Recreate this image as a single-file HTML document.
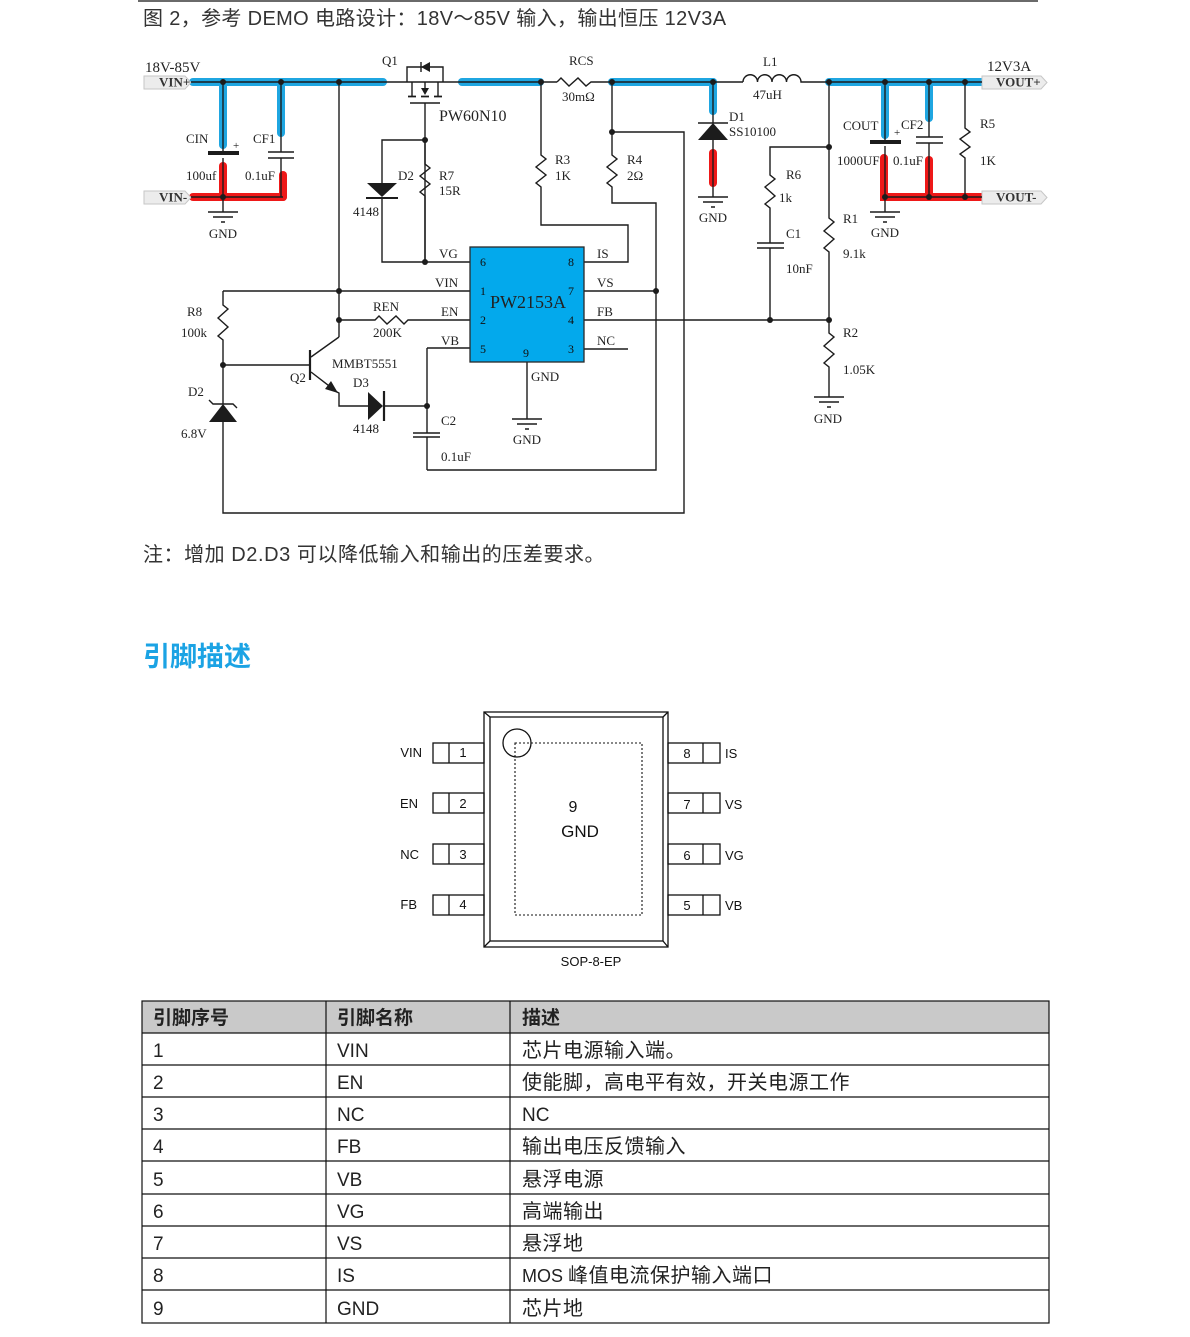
<!DOCTYPE html>
<html><head><meta charset="utf-8">
<style>
html,body{margin:0;padding:0;background:#fff;}
svg{display:block;}
.w{fill:none;stroke:#1c1c1c;stroke-width:1.4;}
.s{font-family:"Liberation Serif",serif;font-size:13px;fill:#222;}
.b{font-family:"Liberation Serif",serif;font-size:13px;font-weight:bold;fill:#333;}
.a{font-family:"Liberation Sans",sans-serif;font-size:13px;fill:#111;}
.cn{font-family:"Liberation Sans","Noto Sans CJK SC",sans-serif;}
</style></head>
<body>
<svg width="1190" height="1337" viewBox="0 0 1190 1337" xmlns="http://www.w3.org/2000/svg">
<!-- top rule -->
<path d="M138,1 H1038" stroke="#111" stroke-width="1.3"/>
<text x="143" y="25" class="cn" style="font-size:20px;letter-spacing:0.35px" fill="#333">图 2，参考 DEMO 电路设计：18V～85V 输入，输出恒压 12V3A</text>

<!-- highlights -->
<g fill="none" stroke-linecap="round" stroke-width="8">
<g stroke="#1fa6e1">
<path d="M193,82 H383"/><path d="M223,82 V145"/><path d="M281,82 V133"/>
<path d="M462,82 H540"/><path d="M612,82 H713"/><path d="M713,82 V111"/>
<path d="M829,82 H982"/><path d="M885,82 V135"/><path d="M929,82 V118"/>
</g>
<g stroke="#ee1818">
<path d="M223,166 V197"/><path d="M193,197 H283"/><path d="M283,175 V197"/>
<path d="M713,153 V183"/>
<path d="M884,158 V197 H982"/><path d="M929,160 V197"/>
</g>
</g>

<!-- tags -->
<g fill="#ececec" stroke="#c6c6c6" stroke-width="1">
<polygon points="144,76 185,76 191,82.5 185,89 144,89"/>
<polygon points="144,191 185,191 191,197.5 185,204 144,204"/>
<polygon points="982,76 1041,76 1047,82.5 1041,89 982,89"/>
<polygon points="982,191 1041,191 1047,197.5 1041,204 982,204"/>
</g>
<text x="159" y="86.5" class="b">VIN+</text>
<text x="159" y="201.5" class="b">VIN-</text>
<text x="996" y="86.5" class="b">VOUT+</text>
<text x="996" y="201.5" class="b">VOUT-</text>

<!-- wires -->
<g class="w">
<path d="M191,82 H407"/>
<!-- Q1 -->
<path d="M407,82 V67 H443 V82"/>
<path d="M421,62 V72"/>
<path d="M407,82 H443"/>
<path d="M412,82 V96 M438,82 V96 M425,82 V88"/>
<path d="M408,96.5 H416 M421,96.5 H429 M434,96.5 H442" stroke-width="1.8"/>
<path d="M410,103 H440" stroke-width="1.6"/>
<path d="M425,103 V262"/>
<path d="M443,82 H557"/>
<path d="M557,82 L561,78 L569,86 L578,78 L586,86 L591,82 H743"/>
<path d="M743,82 a7.25,7.25 0 0 1 14.5,0 a7.25,7.25 0 0 1 14.5,0 a7.25,7.25 0 0 1 14.5,0 a7.25,7.25 0 0 1 14.5,0 H982"/>
<!-- CIN -->
<path d="M223,82 V151 M223,158 V212"/>
<path d="M191,197 H283"/>
<!-- CF1 -->
<path d="M281,82 V152 M268,152 H294 M268,158 H294 M281,158 V197"/>
<!-- D2 / R7 -->
<path d="M425,140 H382 V183"/>
<path d="M366,198 H398" stroke-width="2"/>
<path d="M382,198 V262 H470"/>
<path d="M425,140 V164 L430,168 L420,176 L430,184 L420,192 L425,196 V262"/>
<!-- x=339 -->
<path d="M339,82 V337"/>
<!-- R3 -->
<path d="M541,82 V155 L546,159 L536,167 L546,175 L536,183 L541,187 V225 H628 V262 H584"/>
<!-- R4 -->
<path d="M612,82 V155 L617,159 L607,167 L617,175 L607,183 L612,187 V203 H656 V470 H427"/>
<path d="M612,132 H684 V513 H223 V422"/>
<!-- D1 -->
<path d="M713,82 V123 M698,123 H728 M713,140 V197"/>
<!-- R1/R2 -->
<path d="M829,82 V218 L834,222 L824,231 L834,239 L824,248 L829,252 V333 L834,337 L824,346 L834,354 L824,363 L829,367 V397"/>
<!-- R6/C1 -->
<path d="M829,147 H770 V175 L775,179 L765,187 L775,196 L765,204 L770,208 V243 M757,243 H784 M757,248 H784 M770,248 V320"/>
<!-- COUT -->
<path d="M885,82 V141 M885,146 V212"/>
<path d="M885,197 H982"/>
<!-- CF2 -->
<path d="M929,82 V137 M916,137 H943 M916,143 H943 M929,143 V197"/>
<!-- R5 -->
<path d="M965,82 V128 L970,132 L960,139 L970,147 L960,154 L965,158 V197"/>
<!-- IC pins -->
<path d="M584,291 H656 M584,320 H829 M584,349 H628"/>
<path d="M223,291 H470"/>
<path d="M339,320 H375 L379,316 L387,324 L396,316 L404,324 L408,320 H470"/>
<path d="M427,348 H470 M427,348 V433 M413,433 H440 M413,437 H440 M427,437 V470"/>
<path d="M527,362 V419"/>
<!-- R8 / zener -->
<path d="M223,291 V305 L228,309 L218,318 L228,327 L218,336 L223,340 V404"/>
<path d="M209,400 L213,404 H233 L237,408"/>
<!-- Q2 -->
<path d="M223,365 H310"/>
<path d="M310,350 V380" stroke-width="2.2"/>
<path d="M311,357 L339,337"/>
<path d="M311,372 L337,392 L339,393 V406 H368"/>
<path d="M384,391 V421" stroke-width="2.2"/>
<path d="M384,406 H427"/>
<!-- grounds -->
<path d="M208,212 H238 M213,217 H233 M221,222 H225"/>
<path d="M698,197 H728 M703,202 H723 M711,207 H715"/>
<path d="M870,212 H900 M875,217 H895 M883,222 H887"/>
<path d="M512,419 H542 M517,424 H537 M525,429 H529"/>
<path d="M814,397 H844 M819,402 H839 M827,407 H831"/>
</g>
<!-- filled parts -->
<g fill="#1c1c1c">
<rect x="208" y="151" width="31" height="4"/>
<rect x="870" y="140" width="31" height="4"/>
<polygon points="421,67 430,62 430,72"/>
<polygon points="421,88 429,88 425,95"/>
<polygon points="367,183 397,183 382,197"/>
<polygon points="713,123 698,140 728,140"/>
<polygon points="209,422 237,422 223,404"/>
<polygon points="338,393 325,389 331,381"/>
<polygon points="368,392 368,420 383,406"/>
<g>
<circle cx="223" cy="82" r="3"/><circle cx="281" cy="82" r="3"/><circle cx="339" cy="82" r="3"/>
<circle cx="223" cy="197" r="3"/><circle cx="541" cy="82" r="3"/><circle cx="612" cy="82" r="3"/>
<circle cx="713" cy="82" r="3"/><circle cx="829" cy="82" r="3"/><circle cx="885" cy="82" r="3"/>
<circle cx="929" cy="82" r="3"/><circle cx="965" cy="82" r="3"/><circle cx="885" cy="197" r="3"/>
<circle cx="929" cy="197" r="3"/><circle cx="965" cy="197" r="3"/><circle cx="425" cy="140" r="3"/>
<circle cx="425" cy="262" r="3"/><circle cx="339" cy="291" r="3"/><circle cx="339" cy="320" r="3"/>
<circle cx="223" cy="365" r="3"/><circle cx="427" cy="406" r="3"/><circle cx="656" cy="291" r="3"/>
<circle cx="770" cy="320" r="3"/><circle cx="829" cy="320" r="3"/><circle cx="612" cy="132" r="3"/>
<circle cx="829" cy="147" r="3"/>
</g>
</g>

<!-- IC -->
<rect x="470" y="247" width="114" height="115" fill="#03a9ec" stroke="#2a2a2a" stroke-width="1.3"/>
<text x="490" y="308" class="s" style="font-size:18px" fill="#111">PW2153A</text>
<g class="s" style="font-size:12px;fill:#111">
<text x="480" y="266">6</text><text x="568" y="266">8</text>
<text x="480" y="295">1</text><text x="568" y="295">7</text>
<text x="480" y="324">2</text><text x="568" y="324">4</text>
<text x="480" y="353">5</text><text x="568" y="353">3</text>
<text x="523" y="357">9</text>
</g>

<!-- labels -->
<g class="s">
<text x="145" y="72" style="font-size:15px">18V-85V</text>
<text x="987" y="71" style="font-size:15px">12V3A</text>
<text x="382" y="65">Q1</text>
<text x="569" y="65">RCS</text>
<text x="763" y="66">L1</text>
<text x="439" y="121" style="font-size:16px">PW60N10</text>
<text x="562" y="101">30mΩ</text>
<text x="753" y="99">47uH</text>
<text x="186" y="143">CIN</text>
<text x="253" y="143">CF1</text>
<text x="233" y="149" style="font-size:11px">+</text>
<text x="186" y="180">100uf</text>
<text x="245" y="180">0.1uF</text>
<text x="223" y="238" text-anchor="middle">GND</text>
<text x="398" y="180">D2</text>
<text x="439" y="180">R7</text>
<text x="439" y="195">15R</text>
<text x="353" y="216">4148</text>
<text x="555" y="164">R3</text>
<text x="555" y="180">1K</text>
<text x="627" y="164">R4</text>
<text x="627" y="180">2Ω</text>
<text x="729" y="121">D1</text>
<text x="729" y="136">SS10100</text>
<text x="713" y="222" text-anchor="middle">GND</text>
<text x="843" y="130">COUT</text>
<text x="894" y="136" style="font-size:11px">+</text>
<text x="901" y="129">CF2</text>
<text x="837" y="165">1000UF</text>
<text x="893" y="165">0.1uF</text>
<text x="980" y="128">R5</text>
<text x="980" y="165">1K</text>
<text x="885" y="237" text-anchor="middle">GND</text>
<text x="786" y="179">R6</text>
<text x="779" y="202">1k</text>
<text x="786" y="238">C1</text>
<text x="786" y="273">10nF</text>
<text x="843" y="223">R1</text>
<text x="843" y="258">9.1k</text>
<text x="843" y="337">R2</text>
<text x="843" y="374">1.05K</text>
<text x="828" y="423" text-anchor="middle">GND</text>
<text x="439" y="258">VG</text>
<text x="435" y="287">VIN</text>
<text x="441" y="316">EN</text>
<text x="441" y="345">VB</text>
<text x="373" y="311">REN</text>
<text x="373" y="337">200K</text>
<text x="187" y="316">R8</text>
<text x="181" y="337">100k</text>
<text x="332" y="368">MMBT5551</text>
<text x="290" y="382">Q2</text>
<text x="353" y="387">D3</text>
<text x="353" y="433">4148</text>
<text x="188" y="396">D2</text>
<text x="181" y="438">6.8V</text>
<text x="441" y="425">C2</text>
<text x="441" y="461">0.1uF</text>
<text x="597" y="258">IS</text>
<text x="597" y="287">VS</text>
<text x="597" y="316">FB</text>
<text x="597" y="345">NC</text>
<text x="531" y="381">GND</text>
<text x="527" y="444" text-anchor="middle">GND</text>
</g>

<!-- note & heading -->
<text x="143" y="561" class="cn" style="font-size:20px;letter-spacing:0.55px" fill="#333">注：增加 D2.D3 可以降低输入和输出的压差要求。</text>
<text x="143" y="666" class="cn" style="font-size:27px;font-weight:bold" fill="#1ba3e4">引脚描述</text>

<!-- package -->
<g fill="none" stroke="#111" stroke-width="1.3">
<rect x="484" y="712" width="184" height="235"/>
<rect x="490" y="717" width="173" height="224"/>
<path d="M484,712 L490,717 M668,712 L663,717 M484,947 L490,941 M668,947 L663,941"/>
<rect x="515" y="743" width="127" height="172" stroke-dasharray="2,2" stroke-width="1.1"/>
<circle cx="517" cy="743" r="14"/>
<rect x="433" y="743" width="51" height="20"/><path d="M449,743 V763"/>
<rect x="433" y="793" width="51" height="20"/><path d="M449,793 V813"/>
<rect x="433" y="844" width="51" height="20"/><path d="M449,844 V864"/>
<rect x="433" y="895" width="51" height="20"/><path d="M449,895 V915"/>
<rect x="668" y="743" width="52" height="20"/><path d="M703,743 V763"/>
<rect x="668" y="793" width="52" height="20"/><path d="M703,793 V813"/>
<rect x="668" y="844" width="52" height="20"/><path d="M703,844 V864"/>
<rect x="668" y="895" width="52" height="20"/><path d="M703,895 V915"/>
</g>
<g class="a">
<text x="422" y="757" text-anchor="end">VIN</text>
<text x="418" y="808" text-anchor="end">EN</text>
<text x="419" y="859" text-anchor="end">NC</text>
<text x="417" y="909" text-anchor="end">FB</text>
<text x="463" y="757" text-anchor="middle">1</text>
<text x="463" y="808" text-anchor="middle">2</text>
<text x="463" y="859" text-anchor="middle">3</text>
<text x="463" y="909" text-anchor="middle">4</text>
<text x="687" y="758" text-anchor="middle">8</text>
<text x="687" y="809" text-anchor="middle">7</text>
<text x="687" y="860" text-anchor="middle">6</text>
<text x="687" y="910" text-anchor="middle">5</text>
<text x="725" y="758">IS</text>
<text x="725" y="809">VS</text>
<text x="725" y="860">VG</text>
<text x="725" y="910">VB</text>
<text x="573" y="812" text-anchor="middle" style="font-size:16px">9</text>
<text x="580" y="837" text-anchor="middle" style="font-size:17px">GND</text>
<text x="591" y="966" text-anchor="middle">SOP-8-EP</text>
</g>

<!-- table -->
<rect x="142" y="1001" width="907" height="32" fill="#c9c9c9"/>
<g fill="none" stroke="#111" stroke-width="1.2">
<rect x="142" y="1001" width="907" height="322"/>
<path d="M142,1033 H1049 M142,1065 H1049 M142,1097 H1049 M142,1129 H1049 M142,1161 H1049 M142,1194 H1049 M142,1226 H1049 M142,1258 H1049 M142,1290 H1049"/>
<path d="M326,1001 V1323 M510,1001 V1323"/>
</g>
<g class="cn" style="font-size:19px" fill="#222">
<text x="153" y="1024" font-weight="bold">引脚序号</text>
<text x="337" y="1024" font-weight="bold">引脚名称</text>
<text x="522" y="1024" font-weight="bold">描述</text>
<text x="153" y="1057">1</text><text x="337" y="1057">VIN</text>
<text x="153" y="1089">2</text><text x="337" y="1089">EN</text>
<text x="153" y="1121">3</text><text x="337" y="1121">NC</text>
<text x="153" y="1153">4</text><text x="337" y="1153">FB</text>
<text x="153" y="1186">5</text><text x="337" y="1186">VB</text>
<text x="153" y="1218">6</text><text x="337" y="1218">VG</text>
<text x="153" y="1250">7</text><text x="337" y="1250">VS</text>
<text x="153" y="1282">8</text><text x="337" y="1282">IS</text>
<text x="153" y="1315">9</text><text x="337" y="1315">GND</text>
</g>
<g class="cn" style="font-size:20px;letter-spacing:0.5px" fill="#222">
<text x="522" y="1057">芯片电源输入端。</text>
<text x="522" y="1089">使能脚，高电平有效，开关电源工作</text>
<text x="522" y="1121" style="font-size:19px;letter-spacing:0">NC</text>
<text x="522" y="1153">输出电压反馈输入</text>
<text x="522" y="1186">悬浮电源</text>
<text x="522" y="1218">高端输出</text>
<text x="522" y="1250">悬浮地</text>
<text x="522" y="1282"><tspan style="font-size:18px;letter-spacing:0">MOS </tspan>峰值电流保护输入端口</text>
<text x="522" y="1315">芯片地</text>
</g>
</svg>
</body></html>
